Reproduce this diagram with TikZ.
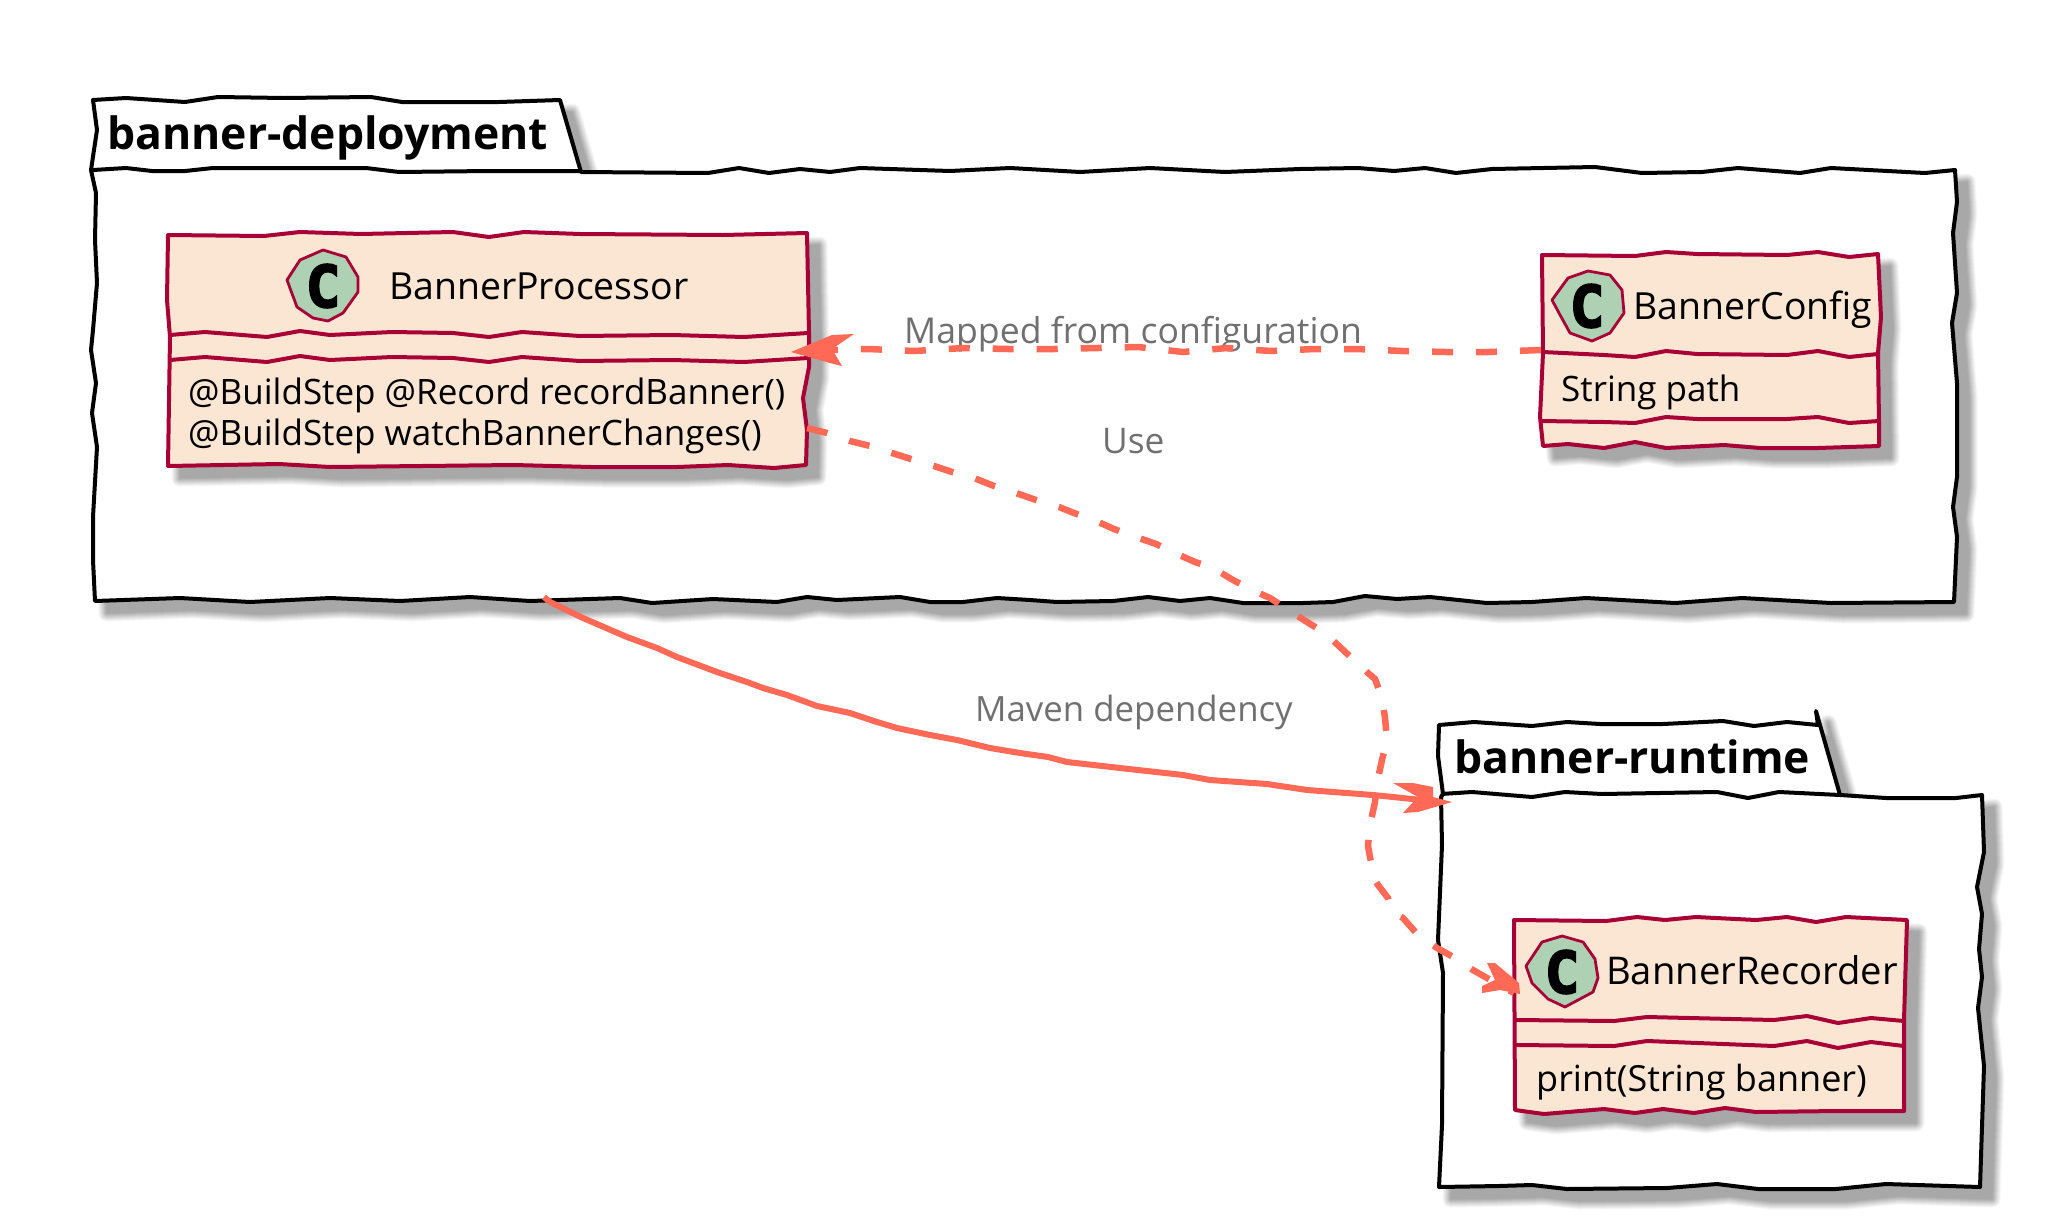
\documentclass[tikz,border=0pt]{standalone}
\usepackage{fontspec}
\setmainfont{Open Sans}
\newfontfamily\glyphfont{DejaVu Sans Mono}[BoldFont={DejaVu Sans Mono Bold},BoldFeatures={FakeBold=3}]
\definecolor{wire}{HTML}{FF6955}
\definecolor{edge}{HTML}{A80036}
\definecolor{paper}{HTML}{FBE6D4}
\definecolor{spot}{HTML}{ADD1B2}
\definecolor{caption}{HTML}{707070}
\newcommand{\sz}[1]{\fontsize{#1}{#1}\selectfont}
% outlines, in reference pixels
\newcommand{\outDep}{(93,100) -- (126,98) -- (185,102) -- (218,97) -- (284,98) -- (371,97) -- (402,102) -- (499,102) -- (560,100) -- (581,172) -- (708,173) -- (739,168) -- (769,173) -- (800,169) -- (830,172) -- (860,168) -- (950,171) -- (1010,168) -- (1080,172) -- (1150,168) -- (1225,172) -- (1300,169) -- (1358,168) -- (1394,171) -- (1425,168) -- (1456,173) -- (1492,169) -- (1595,167) -- (1642,173) -- (1702,172) -- (1738,168) -- (1800,173) -- (1831,168) -- (1925,173) -- (1955,170) -- (1957,202) -- (1953,233) -- (1957,293) -- (1952,323) -- (1957,383) -- (1957,477) -- (1953,507) -- (1957,537) -- (1954,602) -- (1831,603) -- (1742,598) -- (1675,603) -- (1586,598) -- (1532,602) -- (1487,603) -- (1430,597) -- (1397,599) -- (1365,596) -- (1333,602) -- (1303,603) -- (1243,603) -- (1210,598) -- (1180,601) -- (1148,597) -- (1113,601) -- (1057,602) -- (1030,600) -- (997,598) -- (963,602) -- (930,602) -- (900,597) -- (837,600) -- (807,597) -- (777,602) -- (713,599) -- (652,603) -- (620,598) -- (530,601) -- (470,597) -- (400,601) -- (330,598) -- (250,602) -- (180,598) -- (95,601) -- (93,560) -- (93,517) -- (97,447) -- (92,413) -- (96,383) -- (91,350) -- (93,330) -- (97,283) -- (95,240) -- (96,193) -- (91,170) -- (97,130)}
\newcommand{\tabDep}{(93,170) -- (126,168) -- (152,171) -- (185,171) -- (213,168) -- (366,168) -- (399,172) -- (489,171) -- (581,171)}
\newcommand{\outRun}{(1439,725) -- (1474,722) -- (1532,726) -- (1567,722) -- (1600,724) -- (1663,724) -- (1723,721) -- (1754,726) -- (1787,722) -- (1818,725) -- (1816,711) -- (1840,795) -- (1886,798) -- (1956,798) -- (1982,795) -- (1984,852) -- (1977,887) -- (1982,914) -- (1979,949) -- (1982,977) -- (1978,1008) -- (1984,1066) -- (1980,1187) -- (1886,1184) -- (1836,1189) -- (1758,1189) -- (1717,1184) -- (1667,1188) -- (1567,1189) -- (1532,1185) -- (1499,1186) -- (1439,1187) -- (1442,1125) -- (1443,973) -- (1438,940) -- (1442,845) -- (1441,797) -- (1443,794) -- (1438,756)}
\newcommand{\tabRun}{(1441,794) -- (1472,792) -- (1532,797) -- (1565,792) -- (1602,794) -- (1717,792) -- (1748,798) -- (1779,792) -- (1840,795)}
\newcommand{\outProc}{(168,235) -- (264,236) -- (300,232) -- (361,234) -- (453,232) -- (489,237) -- (524,232) -- (580,234) -- (723,235) -- (807,233) -- (809,333) -- (809,367) -- (803,398) -- (807,430) -- (806,465) -- (774,468) -- (728,465) -- (677,467) -- (591,467) -- (514,465) -- (330,467) -- (279,464) -- (168,466) -- (170,337) -- (167,300)}
\newcommand{\sepProcA}{(170,335) -- (205,332) -- (267,337) -- (300,331) -- (330,335) -- (392,332) -- (453,333) -- (489,337) -- (522,332) -- (580,336) -- (672,335) -- (744,337) -- (808,333)}
\newcommand{\sepProcB}{(170,360) -- (205,357) -- (267,362) -- (300,356) -- (330,360) -- (392,357) -- (453,358) -- (489,362) -- (522,357) -- (580,361) -- (672,360) -- (744,362) -- (808,358)}
\newcommand{\spotProc}{(323,250) -- (346,257) -- (358,277) -- (358,292) -- (343,313) -- (328,321) -- (313,318) -- (297,307) -- (287,280) -- (300,260)}
\newcommand{\outCfg}{(1542,255) -- (1635,256) -- (1666,252) -- (1697,254) -- (1787,255) -- (1818,252) -- (1849,257) -- (1878,254) -- (1881,317) -- (1878,353) -- (1879,423) -- (1879,446) -- (1818,448) -- (1760,448) -- (1724,445) -- (1666,448) -- (1635,442) -- (1604,448) -- (1568,444) -- (1543,446) -- (1540,417) -- (1543,353)}
\newcommand{\sepCfgA}{(1543,352) -- (1604,355) -- (1635,357) -- (1666,351) -- (1697,354) -- (1787,355) -- (1818,351) -- (1849,357) -- (1878,354)}
\newcommand{\sepCfgB}{(1541,421) -- (1604,422) -- (1635,423) -- (1666,417) -- (1697,419) -- (1787,419) -- (1818,417) -- (1849,423) -- (1879,421)}
\newcommand{\spotCfg}{(1588,271) -- (1610,275) -- (1622,290) -- (1624,313) -- (1610,333) -- (1592,341) -- (1570,333) -- (1559,313) -- (1552,300) -- (1568,278)}
\newcommand{\outRec}{(1514,920) -- (1606,921) -- (1637,917) -- (1665,920) -- (1696,917) -- (1756,920) -- (1787,917) -- (1816,922) -- (1846,917) -- (1907,920) -- (1904,1020) -- (1904,1111) -- (1838,1111) -- (1756,1112) -- (1725,1108) -- (1694,1113) -- (1663,1109) -- (1635,1113) -- (1604,1109) -- (1544,1114) -- (1515,1110)}
\newcommand{\sepRecA}{(1516,1020) -- (1614,1021) -- (1647,1017) -- (1774,1020) -- (1807,1016) -- (1838,1023) -- (1871,1018) -- (1904,1021)}
\newcommand{\sepRecB}{(1516,1045) -- (1614,1046) -- (1647,1041) -- (1774,1046) -- (1807,1041) -- (1838,1048) -- (1871,1042) -- (1904,1046)}
\newcommand{\spotRec}{(1562,936) -- (1583,942) -- (1595,959) -- (1598,978) -- (1593,992) -- (1565,1007) -- (1548,999) -- (1532,983) -- (1526,966) -- (1542,942)}
% soft shadow below a closed outline: nested opaque bands, widest and palest first
\newcommand{\softshadow}[1]{%
  \begin{scope}[shift={(12,12)}]
    \foreach \w/\g in {17/3,15/7,13/11,11/15,9/19,7/23,5/27,3/31,1/34}{\path[draw=black!\g!white,fill=black!\g!white,line width=\w pt,line join=round] #1 -- cycle;}
  \end{scope}}
\tikzset{
  pkgline/.style={draw=black,line width=4pt,line join=round},
  boxline/.style={draw=edge,line width=4pt,line join=round},
  spotline/.style={draw=edge,line width=2.8pt,fill=spot,line join=round},
  anchorbox/.style={inner sep=0pt,outer sep=0pt,minimum width=#1},
  pkgname/.style={anchor=base west,inner sep=0pt,font=\bfseries\sz{44.5}},
  classname/.style={anchor=base west,inner sep=0pt,font=\sz{37.4},text=black},
  member/.style={anchor=base west,inner sep=0pt,font=\sz{35},text=black},
  glyph/.style={inner sep=0pt,font=\glyphfont\bfseries\sz{58}},
  linklabel/.style={anchor=base west,inner sep=0pt,font=\sz{35.3},text=caption},
  solidwire/.style={draw=wire,line width=6pt,line join=round},
  dashwire/.style={draw=wire,line width=6.5pt,dash pattern=on 21pt off 23pt},
  headfill/.style={fill=wire,draw=none},
}
\begin{document}
\begin{tikzpicture}[x=1pt,y=-1pt]
\useasboundingbox (0,0) rectangle (2046,1221);
\fill[white] (0,0) rectangle (2046,1221);
% packages
\softshadow{\outDep}
\path[pkgline,fill=white] \outDep -- cycle;
\draw[pkgline] \tabDep;
\softshadow{\outRun}
\path[pkgline,fill=white] \outRun -- cycle;
\draw[pkgline] \tabRun;
% classes
\softshadow{\outProc}
\path[boxline,fill=paper] \outProc -- cycle;
\draw[boxline] \sepProcA;
\draw[boxline] \sepProcB;
\path[spotline] \spotProc -- cycle;
\softshadow{\outCfg}
\path[boxline,fill=paper] \outCfg -- cycle;
\draw[boxline] \sepCfgA;
\draw[boxline] \sepCfgB;
\path[spotline] \spotCfg -- cycle;
\softshadow{\outRec}
\path[boxline,fill=paper] \outRec -- cycle;
\draw[boxline] \sepRecA;
\draw[boxline] \sepRecB;
\path[spotline] \spotRec -- cycle;
% invisible frames that the connectors attach to
\node[anchorbox=1862pt,minimum height=427pt] (dep) at (1024,383.5) {};
\node[anchorbox=541pt,minimum height=390pt] (run) at (1711.5,992) {};
\node[anchorbox=639pt,minimum height=232pt] (proc) at (487.5,350) {};
\node[anchorbox=338pt,minimum height=192pt] (cfg) at (1710,350) {};
\node[anchorbox=392pt,minimum height=192pt] (rec) at (1710,1016) {};
% texts
\node[pkgname] (depname) at (107,149) {banner-deployment};
\node[pkgname] (runname) at (1454,773) {banner-runtime};
\node[glyph] (procC) at (323,286) {C};
\node[glyph] (cfgC) at (1587,306) {C};
\node[glyph] (recC) at (1562,972) {C};
\node[classname] (procname) at (389,299) {BannerProcessor};
\node[classname] (cfgname) at (1633,319) {BannerConfig};
\node[classname,font=\sz{38.2}] (recname) at (1606,984) {BannerRecorder};
\node[member] (procm1) at (188,404) {@BuildStep @Record recordBanner()};
\node[member] (procm2) at (188,445) {@BuildStep watchBannerChanges()};
\node[member] (cfgm) at (1561,401) {String path};
\node[member,font=\sz{36}] (recm) at (1536,1091) {print(String banner)};
\node[linklabel,font=\sz{35.6}] (lblmap) at (904,343) {Mapped from configuration};
\node[linklabel] (lbluse) at (1102,453) {Use};
\node[linklabel,font=\sz{34.8}] (lblmvn) at (975,721) {Maven dependency};
% connectors
\draw[solidwire] (544,0 |- dep.south) -- (550,602) -- (583,618) -- (627,637) -- (657,648) -- (677,657) -- (717,672) -- (747,682) -- (763,688) -- (787,695) -- (817,706) -- (850,713) -- (877,722) -- (897,728) -- (930,735) -- (957,740) -- (990,748) -- (1020,753) -- (1048,757) -- (1067,762) -- (1120,768) -- (1183,775) -- (1210,780) -- (1267,784) -- (1307,790) -- (1373,795) -- (1393,797) -- (run.west |- 0,802);
\draw[dashwire] (cfg.west) -- (1489,352) -- (1446,352) -- (1402,351) -- (1357,349) -- (1315,349) -- (1271,351) -- (1227,348) -- (1183,352) -- (1138,347) -- (1098,348) -- (1054,349) -- (1008,349) -- (964,348) -- (914,351) -- (868,349) -- (832,350) -- (proc.east);
\draw[dashwire] (proc.east |- 0,428) -- (827,433) -- (850,441) -- (870,446) -- (892,453) -- (911,459) -- (934,466) -- (952,472) -- (974,478) -- (994,486) -- (1016,493) -- (1036,500) -- (1059,507) -- (1074,513) -- (1096,521) -- (1114,529) -- (1136,537) -- (1156,544) -- (1177,554) -- (1195,562) -- (1213,568) -- (1233,580) -- (1252,590) -- (1270,598) -- (1290,611) -- (1307,622) -- (1325,633) -- (1340,647) -- (1357,663) -- (1368,673) -- (1375,679) -- (1382,698) -- (1385,718) -- (1387,740) -- (1382,760) -- (1377,783) -- (1375,802) -- (1370,825) -- (1368,846) -- (1372,868) -- (1373,877) -- (1378,885) -- (1388,898) -- (1392,912) -- (1403,918) -- (1418,935) -- (1437,948) -- (1455,958) -- (1473,970) -- (1487,978) -- (rec.west |- 0,993);
% arrowheads
\fill[headfill] (791,352) -- (832,335) -- (854,334) -- (832,349) -- (842,366) -- (830,363) -- cycle;
\fill[headfill] (1452,802) -- (1433,797) -- (1433,787) -- (1413,783) -- (1393,783) -- (1418,797) -- (1403,813) -- (1418,812) -- cycle;
\fill[headfill] (1520,994) -- (1519,983) -- (1495,963) -- (1487,963) -- (1495,980) -- (1482,986) -- (1482,993) -- (1500,990) -- cycle;
\end{tikzpicture}
\end{document}
